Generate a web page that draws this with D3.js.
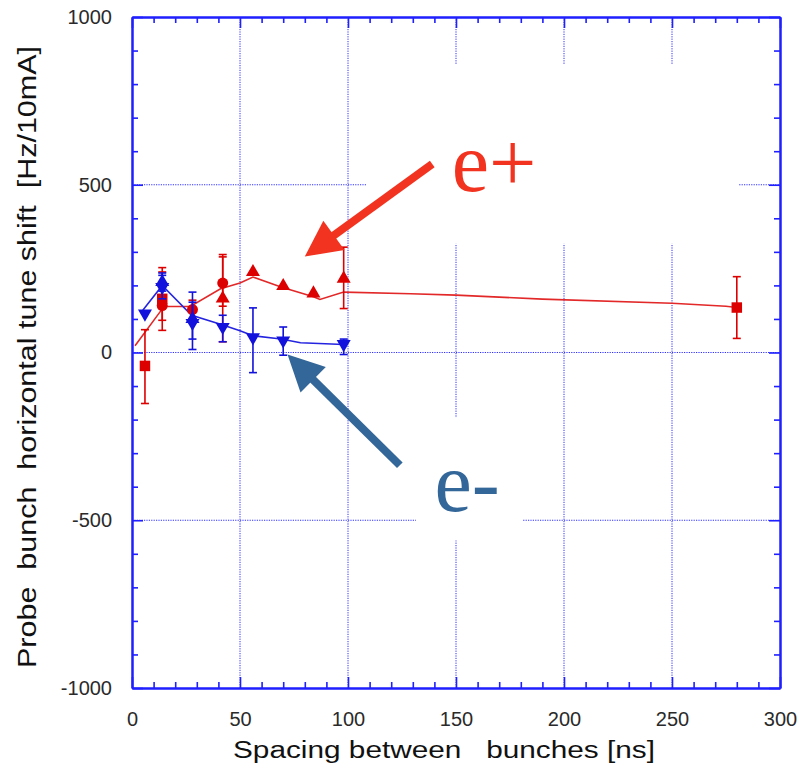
<!DOCTYPE html>
<html>
<head>
<meta charset="utf-8">
<script src="https://cdn.jsdelivr.net/npm/d3@7"></script>
<style>
  body { margin: 0; background: #fff; }
  svg { display: block; }
</style>
</head>
<body>
<svg id="chart" width="802" height="770"></svg>
<script>
// Axis ticks
const xTicks = [0, 50, 100, 150, 200, 250, 300];
const yTicks = [-1000, -500, 0, 500, 1000];
const xMinorTicks = [10,20,30,40,60,70,80,90,110,120,130,140,160,170,180,190,210,220,230,240,260,270,280,290];
const yMinorTicks = [-900,-800,-700,-600,-400,-300,-200,-100,100,200,300,400,600,700,800,900];

// e+ measurements: spacing [ns], tune shift, error bar ends, marker shape
const posX     = [6, 14, 14, 28, 42, 42, 56, 70, 84, 98, 280];
const posY     = [-40, 160, 140, 128, 207, 161, 240, 198, 176, 220, 134];
const posHi    = [68, 253, 240, 156, 292, 285, 240, 198, 176, 314, 226];
const posLo    = [-152, 66, 96, 100, 138, 32, 240, 198, 176, 131, 42];
const posShape = ["square","square","circle","circle","circle","triangle","triangle","triangle","triangle","triangle","square"];

// e+ trend line
const posLineX = [1.4, 14, 15, 27, 41, 50, 56, 69, 84, 87, 98, 129, 150, 190, 250, 275, 280];
const posLineY = [20, 130, 137, 137, 190, 207, 225, 195, 166, 158, 180, 175, 171, 159, 147, 138, 134];

// e- measurements
const eleX     = [6, 14, 14, 28, 28, 42, 56, 70, 98];
const eleY     = [116, 210, 195, 100, 88, 76, 45, 36, 25];
const eleHi    = [116, 237, 230, 180, 150, 111, 133, 76, 40];
const eleLo    = [116, 183, 160, 9, 40, 32, -60, -8, -6];
const eleShape = ["tridown","triup","tridown","triup","tridown","tridown","tridown","tridown","tridown"];

// e- trend line
const eleLineX = [5, 14, 27.6, 41, 50, 56, 69, 78, 98];
const eleLineY = [126, 200, 111, 84, 65, 50, 40, 29, 24];

const W = 802, H = 770;
const m = { left: 132, right: 780, top: 17, bottom: 688 };

const svg = d3.select("#chart");
svg.append("rect").attr("width", W).attr("height", H).attr("fill", "#fff");

const x = d3.scaleLinear().domain([0, 300]).range([m.left, m.right]);
const y = d3.scaleLinear().domain([-1000, 1000]).range([m.bottom, m.top]);

const AX = "#1f1fff";
const RED = "#dd0000";
const BLUE = "#1212dc";
const SANS = "'Liberation Sans', Arial, Helvetica, sans-serif";
const plain = d => String(d);

// Dotted grid at the major ticks
const grid = svg.append("g").attr("stroke", "#3030ff").attr("stroke-width", 1)
  .attr("stroke-dasharray", "1.2,1.2");
grid.selectAll("line.gx").data(xTicks.slice(1, -1)).join("line")
  .attr("x1", d => x(d)).attr("x2", d => x(d)).attr("y1", m.top).attr("y2", m.bottom);
grid.selectAll("line.gy").data(yTicks.slice(1, -1)).join("line")
  .attr("y1", d => y(d)).attr("y2", d => y(d)).attr("x1", m.left).attr("x2", m.right);

// White panels behind the annotations
const panels = [
  { x0: 108.8, x1: 280.6, y0: 324, y1: 857 },
  { x0: 131.5, x1: 180.6, y0: -560, y1: -193 }
];
svg.selectAll("rect.panel").data(panels).join("rect")
  .attr("x", d => x(d.x0)).attr("y", d => y(d.y1))
  .attr("width", d => x(d.x1) - x(d.x0)).attr("height", d => y(d.y0) - y(d.y1))
  .attr("fill", "#fff");

// Axes (ticks point inward)
function styleAxis(g) {
  g.selectAll("path").attr("stroke", AX).attr("stroke-width", 2);
  g.selectAll("line").attr("stroke", AX).attr("stroke-width", 1.6);
  g.selectAll("text").attr("fill", "#2a2a2a")
    .style("font-family", SANS)
    .style("font-size", "20px");
}
svg.append("g").attr("transform", `translate(0,${m.bottom})`)
  .call(d3.axisBottom(x).tickValues(xTicks).tickSizeInner(-11).tickSizeOuter(0).tickPadding(24).tickFormat(plain))
  .call(styleAxis);
svg.append("g").attr("transform", `translate(0,${m.bottom})`)
  .call(d3.axisBottom(x).tickValues(xMinorTicks).tickSizeInner(-6).tickSizeOuter(0).tickFormat(""))
  .call(styleAxis);
svg.append("g").attr("transform", `translate(0,${m.top})`)
  .call(d3.axisTop(x).tickValues(xTicks).tickSizeInner(-11).tickSizeOuter(0).tickFormat(""))
  .call(styleAxis);
svg.append("g").attr("transform", `translate(0,${m.top})`)
  .call(d3.axisTop(x).tickValues(xMinorTicks).tickSizeInner(-6).tickSizeOuter(0).tickFormat(""))
  .call(styleAxis);
svg.append("g").attr("transform", `translate(${m.left},0)`)
  .call(d3.axisLeft(y).tickValues(yTicks).tickSizeInner(-11).tickSizeOuter(0).tickPadding(20).tickFormat(plain))
  .call(styleAxis);
svg.append("g").attr("transform", `translate(${m.left},0)`)
  .call(d3.axisLeft(y).tickValues(yMinorTicks).tickSizeInner(-6).tickSizeOuter(0).tickFormat(""))
  .call(styleAxis);
svg.append("g").attr("transform", `translate(${m.right},0)`)
  .call(d3.axisRight(y).tickValues(yTicks).tickSizeInner(-11).tickSizeOuter(0).tickFormat(""))
  .call(styleAxis);
svg.append("g").attr("transform", `translate(${m.right},0)`)
  .call(d3.axisRight(y).tickValues(yMinorTicks).tickSizeInner(-6).tickSizeOuter(0).tickFormat(""))
  .call(styleAxis);

// Axis titles
svg.append("text")
  .attr("x", (233 + 655) / 2).attr("y", 758)
  .attr("text-anchor", "middle")
  .attr("textLength", 422).attr("lengthAdjust", "spacingAndGlyphs")
  .style("white-space", "pre")
  .style("font-family", SANS)
  .style("font-size", "23px").attr("fill", "#111")
  .text("Spacing between   bunches [ns]");
svg.append("text")
  .attr("transform", `translate(36,${(668 + 46) / 2}) rotate(-90)`)
  .attr("text-anchor", "middle")
  .attr("textLength", 622).attr("lengthAdjust", "spacingAndGlyphs")
  .style("white-space", "pre")
  .style("font-family", SANS)
  .style("font-size", "25px").attr("fill", "#111")
  .text("Probe  bunch  horizontal tune shift  [Hz/10mA]");

// Trend lines
const line = d3.line().x(d => x(d[0])).y(d => y(d[1]));
svg.append("path").datum(d3.zip(posLineX, posLineY))
  .attr("d", line).attr("fill", "none").attr("stroke", "#e22828").attr("stroke-width", 1.6);
svg.append("path").datum(d3.zip(eleLineX, eleLineY))
  .attr("d", line).attr("fill", "none").attr("stroke", "#2424e0").attr("stroke-width", 1.6);

// Error bars and markers
function symbolPath(shape) {
  if (shape === "square") return d3.symbol(d3.symbolSquare, 110)();
  if (shape === "circle") return d3.symbol(d3.symbolCircle, 95)();
  return d3.symbol(d3.symbolTriangle, 85)();
}
function drawSeries(xs, ys, his, los, shapes, color) {
  const data = xs.map((v, i) => ({ x: v, y: ys[i], hi: his[i], lo: los[i], s: shapes[i] }));
  const g = svg.append("g");
  const eb = g.append("g").attr("stroke", color).attr("stroke-width", 1.6);
  const withErr = data.filter(d => d.hi !== d.lo);
  eb.selectAll("line.v").data(withErr).join("line")
    .attr("x1", d => x(d.x)).attr("x2", d => x(d.x))
    .attr("y1", d => y(d.hi)).attr("y2", d => y(d.lo));
  eb.selectAll("line.ch").data(withErr).join("line")
    .attr("x1", d => x(d.x) - 4).attr("x2", d => x(d.x) + 4)
    .attr("y1", d => y(d.hi)).attr("y2", d => y(d.hi));
  eb.selectAll("line.cl").data(withErr).join("line")
    .attr("x1", d => x(d.x) - 4).attr("x2", d => x(d.x) + 4)
    .attr("y1", d => y(d.lo)).attr("y2", d => y(d.lo));
  g.selectAll("path.mk").data(data).join("path")
    .attr("d", d => symbolPath(d.s))
    .attr("transform", d => `translate(${x(d.x)},${y(d.y)})` + (d.s === "tridown" ? " rotate(180)" : ""))
    .attr("fill", color);
}
drawSeries(posX, posY, posHi, posLo, posShape, RED);
drawSeries(eleX, eleY, eleHi, eleLo, eleShape, BLUE);

// Annotation arrows and labels
function arrow(tail, tip, color) {
  const x0 = x(tail[0]), y0 = y(tail[1]), x1 = x(tip[0]), y1 = y(tip[1]);
  const dx = x1 - x0, dy = y1 - y0, L = Math.hypot(dx, dy);
  const ux = dx / L, uy = dy / L, px = -uy, py = ux;
  const headL = 36, headW = 18;
  const bx = x1 - ux * headL, by = y1 - uy * headL;
  svg.append("line").attr("x1", x0).attr("y1", y0).attr("x2", bx + ux * 2).attr("y2", by + uy * 2)
    .attr("stroke", color).attr("stroke-width", 8);
  svg.append("path")
    .attr("d", `M${x1},${y1}L${bx + px * headW},${by + py * headW}L${bx - px * headW},${by - py * headW}Z`)
    .attr("fill", color);
}
arrow([139, 562], [80, 286], "#f2331f");
arrow([124, -336], [72, -6], "#336699");

svg.append("text").attr("x", x(148)).attr("y", y(482))
  .style("font-family", "'Liberation Serif', 'Times New Roman', serif")
  .style("font-size", "84px").attr("fill", "#f2331f").text("e+");
svg.append("text").attr("x", x(140)).attr("y", y(-473))
  .style("font-family", "'Liberation Serif', 'Times New Roman', serif")
  .style("font-size", "84px").attr("fill", "#336699").text("e-");
</script>
</body>
</html>
